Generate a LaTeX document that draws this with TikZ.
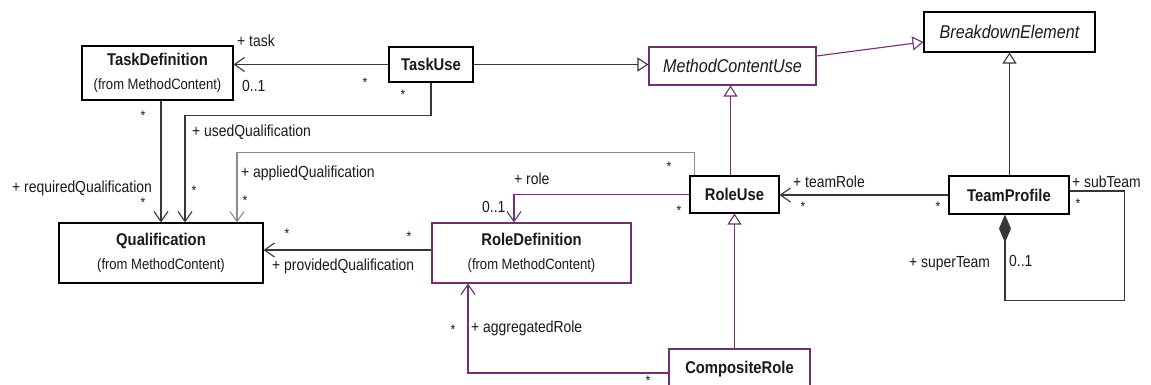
\documentclass[tikz,border=0pt]{standalone}
\usepackage{fontspec}
\setmainfont[FakeStretch=0.87]{Liberation Sans}
\usetikzlibrary{arrows.meta}

\definecolor{umlpurple}{RGB}{110,48,112}
\definecolor{umlline}{RGB}{55,55,55}
\definecolor{umlgray}{RGB}{140,140,140}
\definecolor{umltext}{RGB}{25,25,35}

% class name, package note and abstract (italic) class name
\newcommand\umlname[1]{{\fontsize{17}{24}\selectfont\bfseries #1}}
\newcommand\umlfrom[1]{{\fontsize{15}{24}\selectfont #1}}
\newcommand\umlabs[1]{{\fontsize{18.5}{24}\selectfont\itshape #1}}

\begin{document}
\begin{tikzpicture}[x=1pt,y=-1pt,
  cls/.style={draw=black, line width=1.1pt, fill=white, inner sep=0pt,
    text=umltext, align=center, font=\fontsize{16}{24}\selectfont},
  clsp/.style={cls, draw=umlpurple},
  conn/.style={draw=umlline, line width=1.1pt},
  assoc/.style={conn, -{Straight Barb[length=10pt,width=14pt,line width=1.1pt]}},
  gen/.style={conn, -{Triangle[open,length=11pt,width=14pt,fill=white,line width=1.1pt]}},
  comp/.style={conn, {Diamond[length=28pt,width=12pt]}-},
  lbl/.style={anchor=base west, inner sep=0pt, text=umltext,
    font=\fontsize{16}{19}\selectfont},
  mult/.style={inner sep=0pt, text=umltext, font=\fontsize{14}{16}\selectfont},
]
\useasboundingbox (0,0) rectangle (1151,385);
\clip (0,0) rectangle (1151,385);
\fill[white] (0,0) rectangle (1151,385);

% ---- classes ----
\node[cls, minimum width=151pt, minimum height=54pt] (taskdef) at (157.5,73)
  {\umlname{TaskDefinition}\\\umlfrom{(from MethodContent)}};
\node[cls, minimum width=84pt, minimum height=35pt] (taskuse) at (431,64.5)
  {\umlname{TaskUse}};
\node[clsp, minimum width=167pt, minimum height=38pt] (mcu) at (732.5,66)
  {\umlabs{MethodContentUse}};
\node[cls, minimum width=171pt, minimum height=40pt] (bde) at (1009.5,32)
  {\umlabs{BreakdownElement}};
\node[cls, minimum width=204pt, minimum height=60pt] (qual) at (161,253)
  {\umlname{Qualification}\\\umlfrom{(from MethodContent)}};
\node[clsp, minimum width=199pt, minimum height=60pt] (roledef) at (531.5,253)
  {\umlname{RoleDefinition}\\\umlfrom{(from MethodContent)}};
\node[cls, minimum width=89pt, minimum height=37pt] (roleuse) at (734.5,194.5)
  {\umlname{RoleUse}};
\node[cls, minimum width=120pt, minimum height=38pt] (team) at (1009,195)
  {\umlname{TeamProfile}};
\node[clsp, minimum width=141pt, minimum height=46pt, text depth=10pt] (comprole) at (739.5,372)
  {\umlname{CompositeRole}};

% ---- generalizations ----
\draw[gen] (taskuse.east) -- (taskuse.east -| mcu.west);
\draw[gen, draw=umlpurple] ([yshift=10pt]mcu.east) -- ([yshift=-10pt]bde.west);
\draw[gen] (team.north -| bde.south) -- (bde.south);
\draw[gen, draw=umlpurple] ([xshift=-4pt]roleuse.north) -- ([xshift=-4pt]roleuse.north |- mcu.south);
\draw[gen, draw=umlpurple] (roleuse.south |- comprole.north) -- (roleuse.south);

% ---- associations ----
\draw[assoc] (taskuse.west) -- (taskuse.west -| taskdef.east);
\draw[assoc] (qual.north |- taskdef.south) -- (qual.north);
\draw[assoc] (taskuse.south) -- ++(0,33) -| ([xshift=24pt]qual.north);
\draw[assoc, draw=umlgray] ([xshift=5pt]roleuse.north west) -- ++(0,-23)
  -| ([xshift=76pt]qual.north);
\draw[assoc] ([yshift=3pt]roledef.west) -- ([yshift=3pt]qual.east);
\draw[assoc, draw=umlpurple] (roleuse.west) -| ([xshift=-17.5pt]roledef.north);
\draw[assoc] (team.west) -- (team.west -| roleuse.east);
\draw[assoc, draw=umlpurple] ([yshift=-1pt]comprole.west) -| ([xshift=-63.5pt]roledef.south);
\draw[comp] ([xshift=-4pt]team.south) -- ++(0,86)
  -| ([xshift=55pt,yshift=4pt]team.east) -- ([yshift=4pt]team.east);

% ---- role names and multiplicities ----
\node[lbl] (l-task) at (237,47) {+ task};
\node[lbl] (m-task) at (242,92) {0..1};
\node[mult] (s-task) at (365,83) {*};
\node[mult] (s-tu) at (403,95) {*};
\node[mult] (s-td) at (143,116) {*};
\node[lbl] (l-used) at (192,136) {+ usedQualification};
\node[lbl] (l-req) at (12,192) {+ requiredQualification};
\node[mult] (s-req) at (143,203) {*};
\node[mult] (s-used) at (194,191) {*};
\node[lbl] (l-appl) at (241,177) {+ appliedQualification};
\node[mult] (s-appl) at (245,201) {*};
\node[mult] (s-appl2) at (669,167) {*};
\node[mult] (s-prov1) at (287,234) {*};
\node[mult] (s-prov2) at (409,237) {*};
\node[lbl] (l-prov) at (272,270) {+ providedQualification};
\node[lbl] (l-role) at (514,184) {+ role};
\node[lbl] (m-role) at (482,212) {0..1};
\node[mult] (s-role) at (679,211) {*};
\node[lbl] (l-team) at (793,187) {+ teamRole};
\node[mult] (s-team1) at (803,207) {*};
\node[mult] (s-team2) at (938,207) {*};
\node[lbl] (l-sub) at (1072,187) {+ subTeam};
\node[mult] (s-sub) at (1078,204) {*};
\node[lbl] (l-super) at (909,267) {+ superTeam};
\node[lbl] (m-super) at (1009,266) {0..1};
\node[mult] (s-aggr) at (453,330) {*};
\node[lbl] (l-aggr) at (471,332) {+ aggregatedRole};
\node[mult] (s-comp) at (648,381) {*};
\end{tikzpicture}
\end{document}
